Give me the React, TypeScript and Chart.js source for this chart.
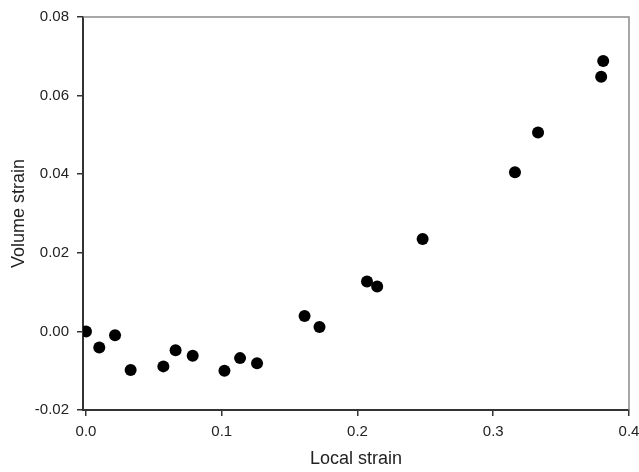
import React, { useEffect, useRef } from "react";
import { Chart, registerables } from "chart.js";

Chart.register(...registerables);

const localStrain = [0.0, 0.0098, 0.0214, 0.0329, 0.057, 0.066, 0.0786, 0.102, 0.1135, 0.126, 0.161, 0.172, 0.207, 0.2145, 0.248, 0.316, 0.333, 0.3795, 0.381];
const volumeStrain = [0.0, -0.0041, -0.001, -0.0098, -0.0089, -0.0048, -0.0062, -0.01, -0.0068, -0.0081, 0.0039, 0.0011, 0.0127, 0.0114, 0.0235, 0.0405, 0.0506, 0.0648, 0.0688];
const xTicks = [0, 0.1, 0.2, 0.3, 0.4];
const yTicks = [-0.02, 0, 0.02, 0.04, 0.06, 0.08];

const frameLines = {
  id: "frameLines",
  afterDatasetsDraw(chart: any) {
    const { ctx, chartArea } = chart;
    ctx.save();
    ctx.strokeStyle = "#8a8a8a";
    ctx.lineWidth = 1.5;
    ctx.beginPath();
    ctx.moveTo(chartArea.left, chartArea.top);
    ctx.lineTo(chartArea.right, chartArea.top);
    ctx.lineTo(chartArea.right, chartArea.bottom);
    ctx.stroke();
    ctx.restore();
  },
};

export default function App() {
  const ref = useRef<HTMLCanvasElement>(null);
  useEffect(() => {
    if (!ref.current) return;
    const chart = new Chart(ref.current, {
      type: "scatter",
      data: {
        datasets: [
          {
            data: localStrain.map((x, i) => ({ x, y: volumeStrain[i] })),
            backgroundColor: "#000",
            borderColor: "#000",
            borderWidth: 0,
            pointRadius: 6,
          },
        ],
      },
      options: {
        animation: false,
        responsive: false,
        maintainAspectRatio: false,
        layout: { padding: { top: 17, right: 10, left: 0, bottom: 0 } },
        plugins: { legend: { display: false }, tooltip: { enabled: false } },
        scales: {
          x: {
            type: "linear",
            min: -0.0022,
            max: 0.4,
            afterBuildTicks: (s: any) => {
              s.ticks = xTicks.map((v) => ({ value: v }));
            },
            afterFit: (s: any) => {
              s.height = 62;
              s.paddingLeft = 0;
              s.paddingRight = 0;
            },
            grid: { display: true, drawOnChartArea: false, drawTicks: true, tickLength: 6, color: "#333", lineWidth: 1.5 },
            border: { display: true, color: "#333", width: 2 },
            ticks: {
              padding: 7,
              color: "#222",
              font: { family: "Liberation Sans", size: 15 },
              callback: (v: any) => Number(v).toFixed(1),
            },
            title: {
              display: true,
              text: "Local strain",
              color: "#222",
              font: { family: "Liberation Sans", size: 18 },
              padding: { top: 0, bottom: 2 },
            },
          },
          y: {
            type: "linear",
            min: -0.02,
            max: 0.08,
            afterBuildTicks: (s: any) => {
              s.ticks = yTicks.map((v) => ({ value: v }));
            },
            afterFit: (s: any) => {
              s.width = 83;
              s.paddingTop = 0;
              s.paddingBottom = 0;
            },
            grid: { display: true, drawOnChartArea: false, drawTicks: true, tickLength: 6, color: "#333", lineWidth: 1.5 },
            border: { display: true, color: "#333", width: 2 },
            ticks: {
              padding: 8,
              color: "#222",
              font: { family: "Liberation Sans", size: 15 },
              callback: (v: any) => Number(v).toFixed(2),
            },
            title: {
              display: true,
              text: "Volume strain",
              color: "#222",
              font: { family: "Liberation Sans", size: 18 },
              padding: { top: 8, bottom: 0 },
            },
          },
        },
      },
      plugins: [frameLines],
    });
    return () => chart.destroy();
  }, []);
  return (
    <div style={{ position: "fixed", left: 0, top: 0, width: 639, height: 472, background: "#fff" }}>
      <canvas ref={ref} width={639} height={472} style={{ width: 639, height: 472, display: "block" }} />
    </div>
  );
}
